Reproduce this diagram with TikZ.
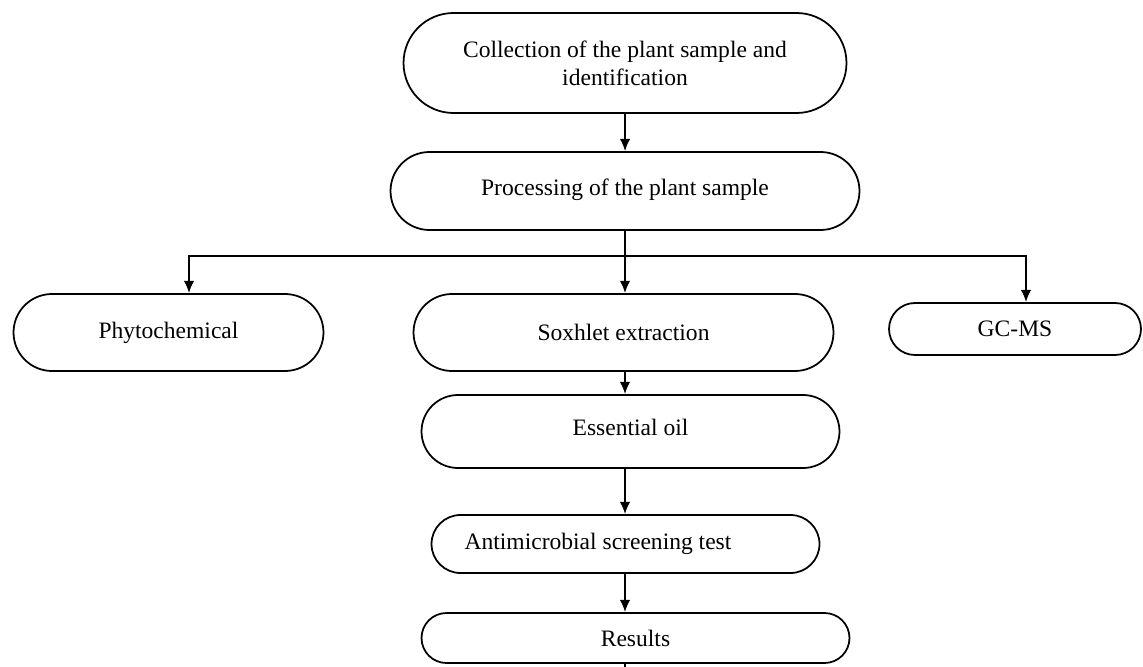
\documentclass[tikz,border=0pt]{standalone}
\usepackage{fontspec}
\setmainfont{Liberation Serif}
\usetikzlibrary{shapes.misc,arrows.meta}

\begin{document}
\begin{tikzpicture}[
line width=1pt,
>={Latex[length=7pt,width=6pt]},
every node/.style={
draw,
shape=rounded rectangle,
align=center,
inner sep=2pt,
font=\fontsize{13.4}{16}\selectfont
}
]

\useasboundingbox (0,0) rectangle (22.86,-13.34);
\clip (0,0) rectangle (22.86,-13.34);

\node[minimum width=9cm, minimum height=2cm] (C)
at (12.5,-1.26)
{Collection of the plant sample and\\identification};

\node[minimum width=9.52cm, minimum height=1.56cm] (P)
at (12.5,-3.82)
{\raisebox{0.16cm}{Processing of the plant sample}};

\coordinate (B) at (12.5,-5.12);

\node[minimum width=6.34cm, minimum height=1.54cm] (Y)
at (3.37,-6.65)
{Phytochemical};

\node[minimum width=8.54cm, minimum height=1.54cm] (S)
at (12.47,-6.65)
{Soxhlet extraction};

\node[minimum width=5.18cm, minimum height=1.04cm] (G)
at (20.3,-6.58)
{GC-MS};

\node[minimum width=8.5cm, minimum height=1.46cm] (E)
at (12.61,-8.63)
{\raisebox{0.16cm}{Essential oil}};

\node[minimum width=7.9cm, minimum height=1.16cm] (A)
at (12.51,-10.88)
{Antimicrobial screening test\hspace*{1.1cm}};

\node[minimum width=8.7cm, minimum height=1cm] (R)
at (12.71,-12.76)
{Results};

\coordinate (N) at (12.5,-13.8);

\draw[->] (C) -- (P);
\draw (P) -- (B);
\draw[->] (B) -| ([xshift=0.41cm]Y.north);
\draw[->] (B) -- (B |- S.north);
\draw[->] (B) -| ([xshift=0.22cm]G.north);
\draw[->] (S.south -| B) -- (B |- E.north);
\draw[->] (E.south -| B) -- (B |- A.north);
\draw[->] (A.south -| B) -- (B |- R.north);
\draw (R.south -| B) -- (N);

\end{tikzpicture}
\end{document}
